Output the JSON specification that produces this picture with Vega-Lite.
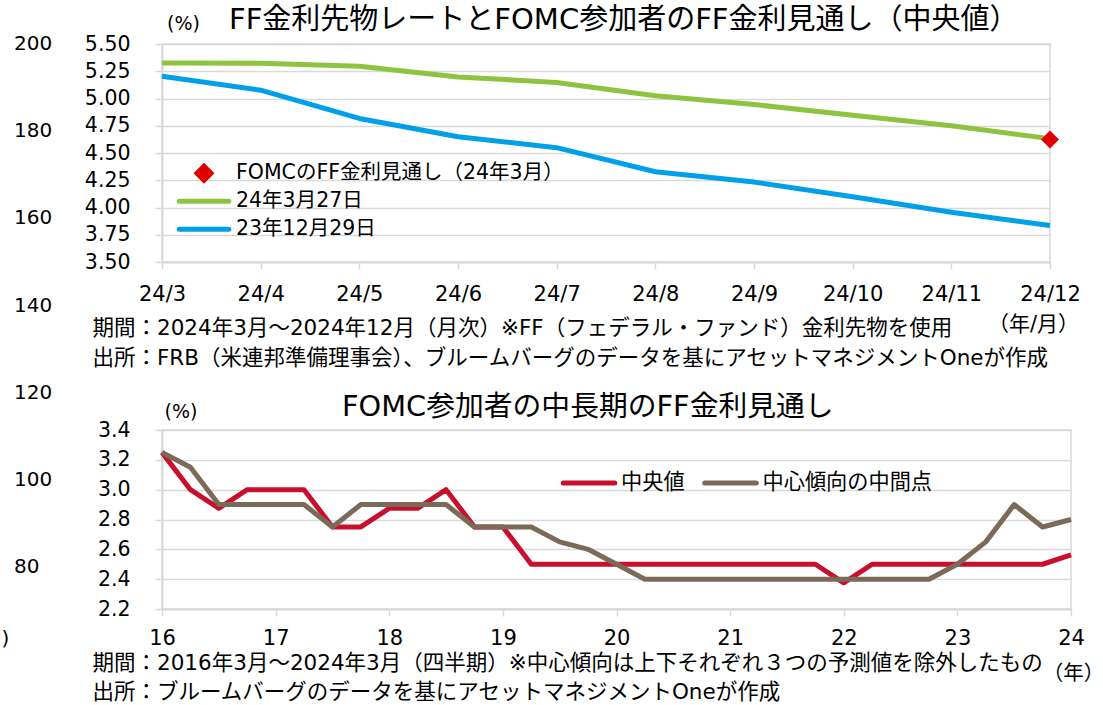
{
  "$schema": "https://vega.github.io/schema/vega-lite/v6.json",
  "background": "white",
  "padding": {"left": 0, "top": 5, "right": 0, "bottom": 0},
  "bounds": "flush",
  "spacing": 168,
  "config": {
    "font": "DejaVu Sans, Noto Sans CJK JP",
    "view": {"stroke": "#D9D9D9", "strokeWidth": 1.5},
    "axis": {"labelColor": "#000", "titleColor": "#000", "titleFontWeight": "normal", "labelFontSize": 21, "gridColor": "#D9D9D9", "gridWidth": 1.5, "domainColor": "#D9D9D9", "domainWidth": 2, "tickColor": "#D9D9D9", "tickWidth": 1.5, "labelOverlap": false, "tickCount": 100},
    "legend": {"labelColor": "#000", "labelFontSize": 21, "labelLimit": 1000, "padding": 0, "rowPadding": 0, "titlePadding": 0},
    "title": {"color": "#000", "fontWeight": "normal", "fontSize": 29}
  },
  "datasets": {
    "ff": [
      {"month": "24/3", "series": "24年3月27日", "rate": 5.326},
      {"month": "24/4", "series": "24年3月27日", "rate": 5.323},
      {"month": "24/5", "series": "24年3月27日", "rate": 5.296},
      {"month": "24/6", "series": "24年3月27日", "rate": 5.198},
      {"month": "24/7", "series": "24年3月27日", "rate": 5.147},
      {"month": "24/8", "series": "24年3月27日", "rate": 5.025},
      {"month": "24/9", "series": "24年3月27日", "rate": 4.945},
      {"month": "24/10", "series": "24年3月27日", "rate": 4.847},
      {"month": "24/11", "series": "24年3月27日", "rate": 4.75},
      {"month": "24/12", "series": "24年3月27日", "rate": 4.632},
      {"month": "24/3", "series": "23年12月29日", "rate": 5.204},
      {"month": "24/4", "series": "23年12月29日", "rate": 5.076},
      {"month": "24/5", "series": "23年12月29日", "rate": 4.817},
      {"month": "24/6", "series": "23年12月29日", "rate": 4.649},
      {"month": "24/7", "series": "23年12月29日", "rate": 4.549},
      {"month": "24/8", "series": "23年12月29日", "rate": 4.328},
      {"month": "24/9", "series": "23年12月29日", "rate": 4.233},
      {"month": "24/10", "series": "23年12月29日", "rate": 4.098},
      {"month": "24/11", "series": "23年12月29日", "rate": 3.957},
      {"month": "24/12", "series": "23年12月29日", "rate": 3.834},
      {"month": "24/12", "series": "FOMCのFF金利見通し（24年3月）", "rate": 4.625}
    ],
    "fomc": [
      {"q": "2016/3", "series": "中央値", "rate": 3.25},
      {"q": "2016/6", "series": "中央値", "rate": 3.0},
      {"q": "2016/9", "series": "中央値", "rate": 2.875},
      {"q": "2016/12", "series": "中央値", "rate": 3.0},
      {"q": "2017/3", "series": "中央値", "rate": 3.0},
      {"q": "2017/6", "series": "中央値", "rate": 3.0},
      {"q": "2017/9", "series": "中央値", "rate": 2.75},
      {"q": "2017/12", "series": "中央値", "rate": 2.75},
      {"q": "2018/3", "series": "中央値", "rate": 2.875},
      {"q": "2018/6", "series": "中央値", "rate": 2.875},
      {"q": "2018/9", "series": "中央値", "rate": 3.0},
      {"q": "2018/12", "series": "中央値", "rate": 2.75},
      {"q": "2019/3", "series": "中央値", "rate": 2.75},
      {"q": "2019/6", "series": "中央値", "rate": 2.5},
      {"q": "2019/9", "series": "中央値", "rate": 2.5},
      {"q": "2019/12", "series": "中央値", "rate": 2.5},
      {"q": "2020/3", "series": "中央値", "rate": 2.5},
      {"q": "2020/6", "series": "中央値", "rate": 2.5},
      {"q": "2020/9", "series": "中央値", "rate": 2.5},
      {"q": "2020/12", "series": "中央値", "rate": 2.5},
      {"q": "2021/3", "series": "中央値", "rate": 2.5},
      {"q": "2021/6", "series": "中央値", "rate": 2.5},
      {"q": "2021/9", "series": "中央値", "rate": 2.5},
      {"q": "2021/12", "series": "中央値", "rate": 2.5},
      {"q": "2022/3", "series": "中央値", "rate": 2.375},
      {"q": "2022/6", "series": "中央値", "rate": 2.5},
      {"q": "2022/9", "series": "中央値", "rate": 2.5},
      {"q": "2022/12", "series": "中央値", "rate": 2.5},
      {"q": "2023/3", "series": "中央値", "rate": 2.5},
      {"q": "2023/6", "series": "中央値", "rate": 2.5},
      {"q": "2023/9", "series": "中央値", "rate": 2.5},
      {"q": "2023/12", "series": "中央値", "rate": 2.5},
      {"q": "2024/3", "series": "中央値", "rate": 2.5625},
      {"q": "2016/3", "series": "中心傾向の中間点", "rate": 3.25},
      {"q": "2016/6", "series": "中心傾向の中間点", "rate": 3.15},
      {"q": "2016/9", "series": "中心傾向の中間点", "rate": 2.9},
      {"q": "2016/12", "series": "中心傾向の中間点", "rate": 2.9},
      {"q": "2017/3", "series": "中心傾向の中間点", "rate": 2.9},
      {"q": "2017/6", "series": "中心傾向の中間点", "rate": 2.9},
      {"q": "2017/9", "series": "中心傾向の中間点", "rate": 2.75},
      {"q": "2017/12", "series": "中心傾向の中間点", "rate": 2.9},
      {"q": "2018/3", "series": "中心傾向の中間点", "rate": 2.9},
      {"q": "2018/6", "series": "中心傾向の中間点", "rate": 2.9},
      {"q": "2018/9", "series": "中心傾向の中間点", "rate": 2.9},
      {"q": "2018/12", "series": "中心傾向の中間点", "rate": 2.75},
      {"q": "2019/3", "series": "中心傾向の中間点", "rate": 2.75},
      {"q": "2019/6", "series": "中心傾向の中間点", "rate": 2.75},
      {"q": "2019/9", "series": "中心傾向の中間点", "rate": 2.65},
      {"q": "2019/12", "series": "中心傾向の中間点", "rate": 2.6},
      {"q": "2020/3", "series": "中心傾向の中間点", "rate": 2.5},
      {"q": "2020/6", "series": "中心傾向の中間点", "rate": 2.4},
      {"q": "2020/9", "series": "中心傾向の中間点", "rate": 2.4},
      {"q": "2020/12", "series": "中心傾向の中間点", "rate": 2.4},
      {"q": "2021/3", "series": "中心傾向の中間点", "rate": 2.4},
      {"q": "2021/6", "series": "中心傾向の中間点", "rate": 2.4},
      {"q": "2021/9", "series": "中心傾向の中間点", "rate": 2.4},
      {"q": "2021/12", "series": "中心傾向の中間点", "rate": 2.4},
      {"q": "2022/3", "series": "中心傾向の中間点", "rate": 2.4},
      {"q": "2022/6", "series": "中心傾向の中間点", "rate": 2.4},
      {"q": "2022/9", "series": "中心傾向の中間点", "rate": 2.4},
      {"q": "2022/12", "series": "中心傾向の中間点", "rate": 2.4},
      {"q": "2023/3", "series": "中心傾向の中間点", "rate": 2.5},
      {"q": "2023/6", "series": "中心傾向の中間点", "rate": 2.65},
      {"q": "2023/9", "series": "中心傾向の中間点", "rate": 2.9},
      {"q": "2023/12", "series": "中心傾向の中間点", "rate": 2.75},
      {"q": "2024/3", "series": "中心傾向の中間点", "rate": 2.8}
    ]
  },
  "resolve": {"scale": {"color": "independent"}, "legend": {"color": "independent"}},
  "vconcat": [
    {
      "width": 888,
      "height": 218,
      "title": {"text": "FF金利先物レートとFOMC参加者のFF金利見通し（中央値）", "anchor": "start", "frame": "group", "dx": 67, "offset": -44, "baseline": "alphabetic", "fontSize": 29},
      "layer": [
        {
          "data": {"name": "ff"},
          "layer": [
            {
              "transform": [{"filter": "datum.series != 'FOMCのFF金利見通し（24年3月）'"}],
              "mark": {"type": "line", "strokeWidth": 5, "strokeJoin": "round"},
              "encoding": {
                "x": {"field": "month", "type": "ordinal", "scale": {"type": "point", "padding": 0, "domain": ["24/3", "24/4", "24/5", "24/6", "24/7", "24/8", "24/9", "24/10", "24/11", "24/12"]},
                  "axis": {"labelAngle": 0, "labelFontSize": 21, "labelPadding": 14, "tickSize": 7, "grid": false,
                    "title": ["期間：2024年3月～2024年12月（月次）※FF（フェデラル・ファンド）金利先物を使用", "出所：FRB（米連邦準備理事会）、ブルームバーグのデータを基にアセットマネジメントOneが作成"],
                    "titleX": -70, "titleY": 72, "titleAlign": "left", "titleAnchor": "start", "titleBaseline": "alphabetic", "titleFontSize": 21.5, "titleLineHeight": 30}},
                "y": {"field": "rate", "type": "quantitative", "scale": {"domain": [3.5, 5.5], "nice": false, "zero": false},
                  "axis": {"values": [3.5, 3.75, 4, 4.25, 4.5, 4.75, 5, 5.25, 5.5], "tickCount": 100, "format": ".2f", "tickSize": 7, "labelPadding": 25, "labelFontSize": 20.5, "grid": true,
                    "title": "(%)", "titleAngle": 0, "titleX": 21, "titleY": -21, "titleAlign": "center", "titleBaseline": "middle", "titleFontSize": 19}},
                "color": {"field": "series", "type": "nominal",
                  "scale": {"domain": ["FOMCのFF金利見通し（24年3月）", "24年3月27日", "23年12月29日"], "range": ["#E00000", "#8CC43F", "#00A0E9"]},
                  "legend": {"orient": "none", "legendX": 14.5, "legendY": 115.3, "title": null, "direction": "vertical", "symbolType": "stroke", "symbolSize": 2470, "symbolStrokeWidth": 5, "clipHeight": 28, "labelOffset": 4.5, "labelFontSize": 20.5,
                    "encode": {"symbols": {"update": {
                      "shape": {"signal": "datum.value == 'FOMCのFF金利見通し（24年3月）' ? 'diamond' : 'stroke'"},
                      "size": {"signal": "datum.value == 'FOMCのFF金利見通し（24年3月）' ? 196 : 2470"},
                      "fill": {"signal": "datum.value == 'FOMCのFF金利見通し（24年3月）' ? '#E00000' : 'transparent'"},
                      "stroke": {"signal": "datum.value == '24年3月27日' ? '#8CC43F' : (datum.value == '23年12月29日' ? '#00A0E9' : 'transparent')"},
                      "strokeWidth": {"value": 5},
                      "strokeCap": {"value": "round"},
                      "opacity": {"value": 1}
                    }}}}
                }
              }
            },
            {
              "transform": [{"filter": "datum.series == 'FOMCのFF金利見通し（24年3月）'"}],
              "mark": {"type": "point", "shape": "diamond", "filled": true, "size": 324, "opacity": 1},
              "encoding": {
                "x": {"field": "month", "type": "ordinal"},
                "y": {"field": "rate", "type": "quantitative"},
                "color": {"field": "series", "type": "nominal"}
              }
            }
          ]
        },
        {
          "data": {"values": [{"cat": "a", "v": 190}]},
          "mark": {"type": "point", "opacity": 0},
          "encoding": {
            "x": {"field": "cat", "type": "nominal", "axis": {"orient": "bottom", "labels": false, "ticks": false, "domain": false, "grid": false, "title": "（年/月）", "titleX": 871, "titleY": 62, "titleAlign": "center", "titleBaseline": "middle", "titleFontSize": 21}},
            "y": {"field": "v", "type": "quantitative", "scale": {"domain": [80, 200], "range": [522.5, -0.5], "nice": false, "zero": false},
              "axis": {"orient": "left", "values": [200, 180, 160, 140, 120, 100, 80], "tickCount": 100, "labelAlign": "left", "labelBaseline": "middle", "labelPadding": 148.5, "tickSize": 0, "ticks": false, "domain": false, "grid": false, "labelFontSize": 20,
                "title": ")", "titleAngle": 0, "titleX": -161, "titleY": 594, "titleAlign": "left", "titleBaseline": "middle", "titleFontSize": 20}}
          }
        }
      ],
      "resolve": {"scale": {"x": "independent", "y": "independent"}, "axis": {"x": "independent", "y": "independent"}}
    },
    {
      "width": 909,
      "height": 179,
      "title": {"text": "FOMC参加者の中長期のFF金利見通し", "anchor": "start", "frame": "group", "dx": 180, "offset": -43, "baseline": "alphabetic", "fontSize": 28.8},
      "layer": [
        {
          "data": {"name": "fomc"},
          "encoding": {
            "x": {"field": "q", "type": "ordinal", "scale": {"type": "point", "padding": 0, "domain": ["2016/3", "2016/6", "2016/9", "2016/12", "2017/3", "2017/6", "2017/9", "2017/12", "2018/3", "2018/6", "2018/9", "2018/12", "2019/3", "2019/6", "2019/9", "2019/12", "2020/3", "2020/6", "2020/9", "2020/12", "2021/3", "2021/6", "2021/9", "2021/12", "2022/3", "2022/6", "2022/9", "2022/12", "2023/3", "2023/6", "2023/9", "2023/12", "2024/3"]},
              "axis": {"values": ["2016/3", "2017/3", "2018/3", "2019/3", "2020/3", "2021/3", "2022/3", "2023/3", "2024/3"], "labelExpr": "substring(datum.value, 2, 4)", "labelAngle": 0, "labelFontSize": 21, "labelPadding": 11, "tickSize": 7, "grid": false,
                "title": ["期間：2016年3月～2024年3月（四半期）※中心傾向は上下それぞれ３つの予測値を除外したもの", "出所：ブルームバーグのデータを基にアセットマネジメントOneが作成"],
                "titleX": -70, "titleY": 60, "titleAlign": "left", "titleAnchor": "start", "titleBaseline": "alphabetic", "titleFontSize": 21.5, "titleLineHeight": 29.5}},
            "y": {"field": "rate", "type": "quantitative", "scale": {"domain": [2.2, 3.4], "nice": false, "zero": false},
              "axis": {"values": [2.2, 2.4, 2.6, 2.8, 3.0, 3.2, 3.4], "tickCount": 100, "format": ".1f", "tickSize": 7, "labelPadding": 25, "labelFontSize": 20.5, "grid": true,
                "title": "(%)", "titleAngle": 0, "titleX": 18.5, "titleY": -19, "titleAlign": "center", "titleBaseline": "middle", "titleFontSize": 19}},
            "color": {"field": "series", "type": "nominal",
              "scale": {"domain": ["中央値", "中心傾向の中間点"], "range": ["#C8102E", "#7B6A57"]},
              "legend": {"orient": "none", "legendX": 398.5, "legendY": 39, "title": null, "direction": "horizontal", "symbolType": "stroke", "symbolSize": 2663, "symbolStrokeWidth": 5, "clipHeight": 28, "labelOffset": 3.5, "columnPadding": 16.5, "labelFontSize": 21.2,
                "encode": {"symbols": {"update": {"strokeCap": {"value": "round"}, "strokeWidth": {"value": 5}, "opacity": {"value": 1}}}}}
            }
          },
          "layer": [
            {"transform": [{"filter": "datum.series == '中央値'"}], "mark": {"type": "line", "strokeWidth": 5, "strokeJoin": "round"}},
            {"transform": [{"filter": "datum.series == '中心傾向の中間点'"}], "mark": {"type": "line", "strokeWidth": 5, "strokeJoin": "round"}}
          ]
        },
        {
          "data": {"values": [{"cat": "a"}]},
          "mark": {"type": "point", "opacity": 0},
          "encoding": {
            "x": {"field": "cat", "type": "nominal", "axis": {"orient": "bottom", "labels": false, "ticks": false, "domain": false, "grid": false, "title": "（年）", "titleX": 911, "titleY": 64, "titleAlign": "center", "titleBaseline": "middle", "titleFontSize": 20.5}},
            "y": {"datum": 3, "type": "quantitative"}
          }
        }
      ],
      "resolve": {"scale": {"x": "independent"}, "axis": {"x": "independent"}}
    }
  ]
}
